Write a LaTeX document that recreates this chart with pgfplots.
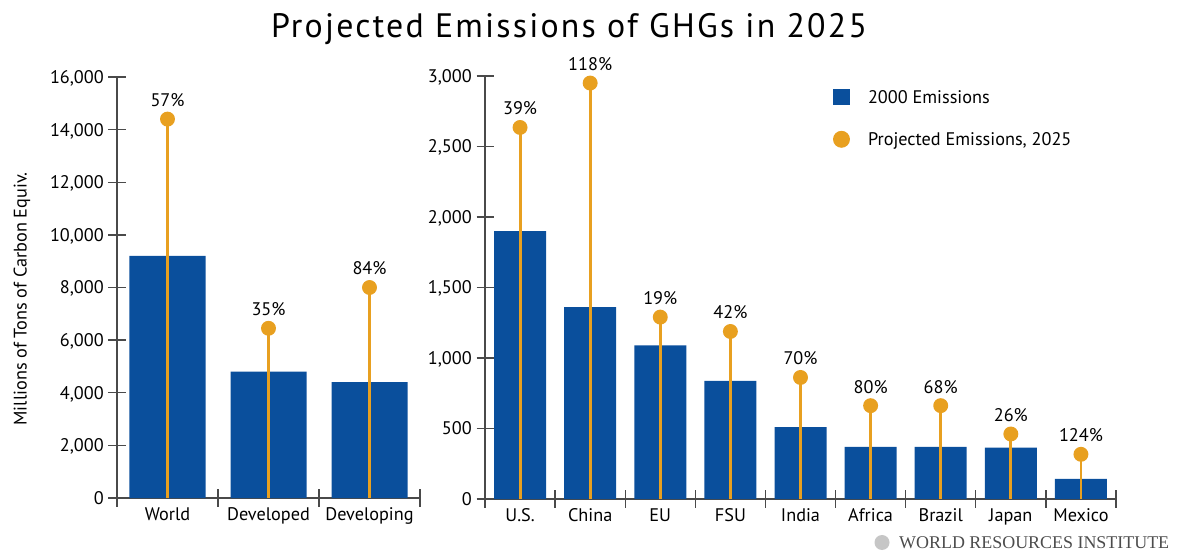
\documentclass[border=0pt]{standalone}
\usepackage{fontspec}
\setmainfont{PT Sans}
\newfontfamily\wriserif{Liberation Serif}
\usepackage{pgfplots}
\pgfplotsset{compat=1.18}

\definecolor{wriblue}{HTML}{0A4F9C}
\definecolor{wriorange}{HTML}{E8A020}
\definecolor{axisgray}{HTML}{4A4A4A}
\newcommand\lblfont{\fontsize{18.3}{18.3}\selectfont}

\pgfplotsset{
  wri/.style={
    scale only axis, clip=false,
    axis lines*=left,
    axis line style={draw=axisgray, line width=1.3bp},
    every tick/.style={draw=axisgray, line width=1.3bp},
    tick align=center, major tick length=17bp,
    x tick label as interval,
    ymin=0, scaled y ticks=false,
    /pgf/number format/assume math mode=true,
    /pgf/number format/1000 sep={,},
    tick label style={font=\lblfont, inner sep=0pt, text=black},
    yticklabel style={anchor=base east, xshift=-4.5bp, yshift=-6.4bp},
    xticklabel style={anchor=base, yshift=-14bp},
  },
  barplot/.style={ybar, fill=wriblue, draw=none, bar width=#1},
  stem/.style={ycomb, draw=wriorange, line width=2.9bp,
    mark=*, mark size=6bp, mark options={fill=wriorange, draw=none},
    nodes near coords, point meta=explicit symbolic,
    every node near coord/.append style={font=\lblfont, anchor=base,
      yshift=12.5bp, inner sep=0pt, text=black}},
}

\begin{document}
\begin{tikzpicture}
\path[use as bounding box] (0,0) rectangle (1181bp,551bp);

% world / developed / developing
\begin{axis}[wri,
    at={(117bp,53bp)}, anchor=south west,
    width=303bp, height=421bp,
    xmin=-0.5, xmax=2.5, ymax=16000,
    xtick={-0.5,0.5,1.5,2.5},
    xticklabels={World,Developed,Developing},
    ytick={0,2000,...,16000}]
  \addplot[barplot=76bp] coordinates {(0,9200) (1,4800) (2,4400)};
  \addplot[stem] coordinates {(0,14400) [57\%] (1,6450) [35\%] (2,8000) [84\%]};
\end{axis}

% countries
\begin{axis}[wri,
    at={(485bp,52bp)}, anchor=south west,
    width=631bp, height=423bp,
    xmin=-0.5, xmax=8.5, ymax=3000,
    xtick={-0.5,0.5,...,8.5},
    xticklabels={U.S.,China,EU,FSU,India,Africa,Brazil,Japan,Mexico},
    ytick={0,500,...,3000},
    legend cell align=left,
    legend style={at={(axis description cs:0.5515,0.9993)}, anchor=north west,
      draw=none, fill=none, inner sep=0pt, outer sep=0pt,
      row sep=0pt, column sep=0pt, nodes={inner sep=0pt, font=\lblfont}}]
  \addplot[barplot=52bp, legend image code/.code={
      \path[draw=none,fill=none] (0,-21bp) rectangle (35bp,21bp);
      \fill[wriblue] (0,-8bp) rectangle (17bp,8bp);}]
    coordinates {(0,1900) (1,1360) (2,1090) (3,837) (4,510)
                 (5,370) (6,370) (7,364) (8,142)};
  \addlegendentry{2000 Emissions}
  \addplot[stem, legend image code/.code={
      \path[draw=none,fill=none] (0,-21bp) rectangle (35bp,21bp);
      \fill[wriorange] (8.5bp,0) circle (7bp);}]
    coordinates {(0,2635) [39\%] (1,2950) [118\%] (2,1290) [19\%]
                 (3,1188) [42\%] (4,862) [70\%] (5,662) [80\%]
                 (6,662) [68\%] (7,461) [26\%] (8,317) [124\%]};
  \addlegendentry{Projected Emissions, 2025}
\end{axis}

\node[font=\fontsize{34}{34}\selectfont\addfontfeature{LetterSpace=6.5}]
  at (569bp,522bp) {Projected Emissions of GHGs in 2025};
\node[rotate=90, font=\lblfont] at (22bp,252bp) {Millions of Tons of Carbon Equiv.};
\fill[gray!45] (882bp,8.5bp) circle (7.5bp);
\node[anchor=west, inner sep=0pt, text=black!70, font=\wriserif\fontsize{18}{18}\selectfont]
  at (899bp,8.5bp) {WORLD RESOURCES INSTITUTE};
\end{tikzpicture}
\end{document}
